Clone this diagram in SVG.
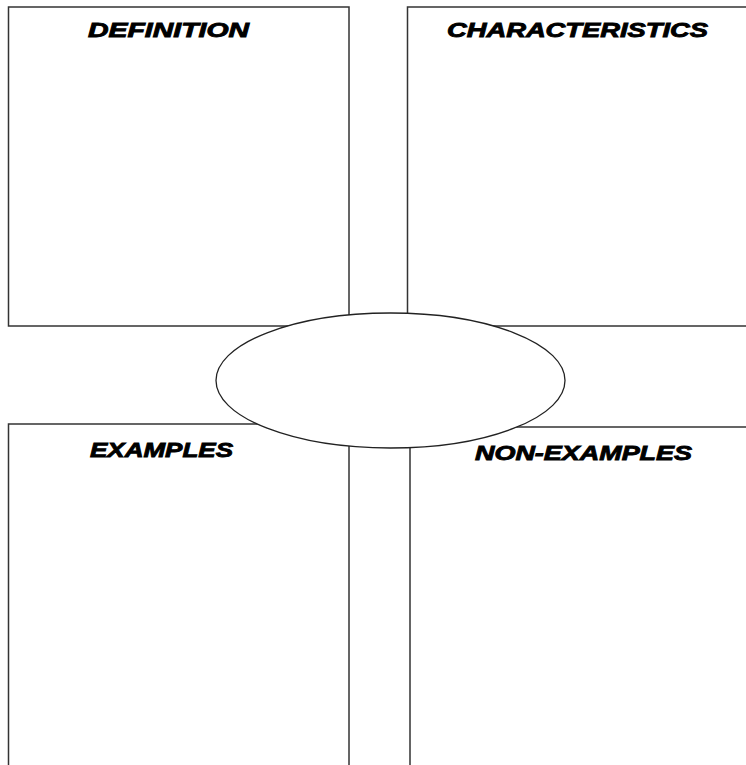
<svg xmlns="http://www.w3.org/2000/svg" width="746" height="765" viewBox="0 0 746 765">
<style>
.box{fill:#fff;stroke:#333;stroke-width:1.5}
.oval{fill:#fff;stroke:#222;stroke-width:1.3}
.lbl{font-family:"Liberation Sans",Arial,sans-serif;font-weight:bold;font-style:italic;font-size:21px;fill:#000;stroke:#000;stroke-width:0.9}
</style>
<rect width="746" height="765" fill="#fff"/>
<g id="definition">
<rect class="box" x="8.5" y="7" width="340.5" height="319"/>
<text class="lbl" x="88" y="37" textLength="161" lengthAdjust="spacingAndGlyphs">DEFINITION</text>
</g>
<g id="characteristics">
<rect class="box" x="407.5" y="7" width="345" height="319"/>
<text class="lbl" x="447" y="36.5" textLength="261" lengthAdjust="spacingAndGlyphs">CHARACTERISTICS</text>
</g>
<g id="examples">
<rect class="box" x="8.5" y="424" width="340.5" height="350"/>
<text class="lbl" x="90" y="457" textLength="143" lengthAdjust="spacingAndGlyphs">EXAMPLES</text>
</g>
<g id="non-examples">
<rect class="box" x="410" y="427" width="345" height="350"/>
<text class="lbl" x="475" y="460" textLength="217" lengthAdjust="spacingAndGlyphs">NON-EXAMPLES</text>
</g>
<g id="center">
<ellipse class="oval" cx="390.5" cy="380.5" rx="174.5" ry="67.5"/>
</g>
<g id="connectors"/>
</svg>
